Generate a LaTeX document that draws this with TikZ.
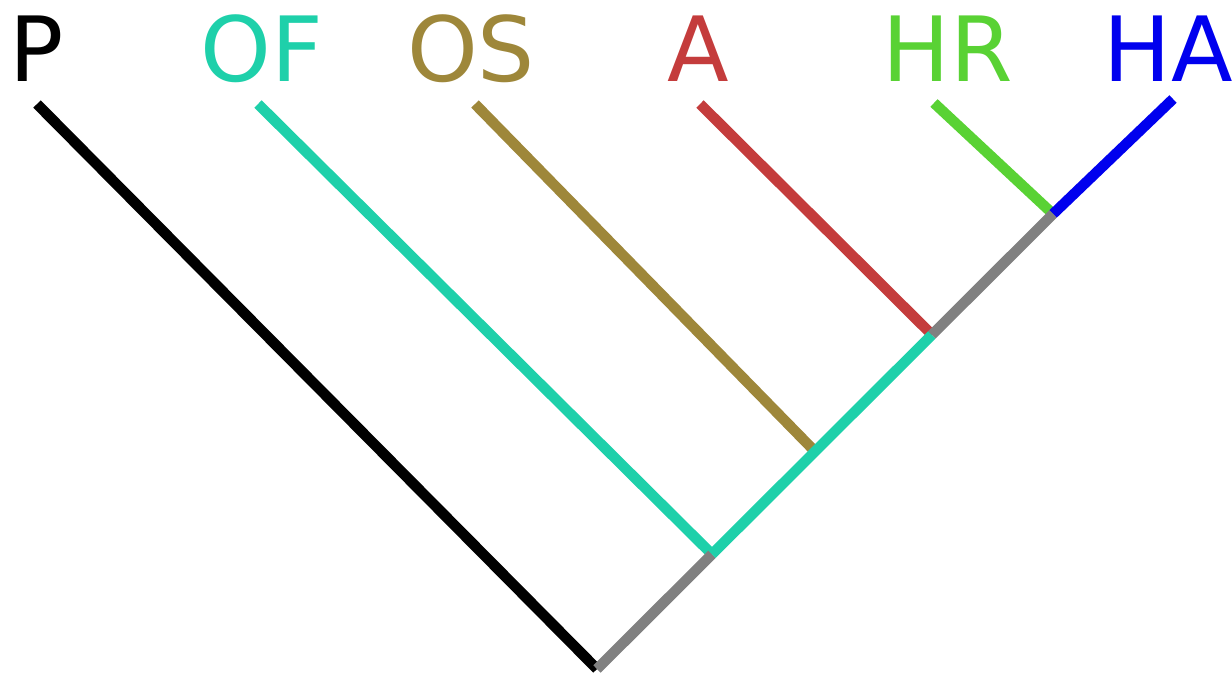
\documentclass[tikz,border=0pt]{standalone}
\usepackage{fontspec}
\setmainfont{DejaVu Sans}
\usetikzlibrary{calc}
\definecolor{cteal}{RGB}{30,208,170}
\definecolor{colive}{RGB}{158,135,58}
\definecolor{cred}{RGB}{196,60,60}
\definecolor{cgreen}{RGB}{89,210,52}
\definecolor{cblue}{RGB}{0,0,238}
\definecolor{cgray}{RGB}{128,128,128}
\begin{document}
\begin{tikzpicture}[x=1pt,y=-1pt,
  branch/.style={line width=10.5pt,line cap=butt},
  taxon/.style={anchor=base,inner sep=0pt,font=\fontsize{90}{90}\selectfont}]
\useasboundingbox (0,0) rectangle (1232,678);
% internal nodes of the tree, all on one straight backbone
\coordinate (root) at (597,669);
\coordinate (n4) at (1053,214);
\coordinate (n1) at ($(root)!0.2522!(n4)$);
\coordinate (n2) at ($(root)!0.4781!(n4)$);
\coordinate (n3) at ($(root)!0.7346!(n4)$);
% leaf tips
\coordinate (tP) at (37,104);
\coordinate (tOF) at (258,104);
\coordinate (tOS) at (475,104);
\coordinate (tA) at (700,104);
\coordinate (tHR) at (934,103);
\coordinate (tHA) at (1173,99);
% labels
\node[taxon] (lP) at (37,81) {P};
\node[taxon,text=cteal] (lOF) at (262,81) {OF};
\node[taxon,text=colive] (lOS) at (471,81) {OS};
\node[taxon,text=cred] (lA) at (698,81) {A};
\node[taxon,text=cgreen] (lHR) at (948,81) {HR};
\node[taxon,text=cblue] (lHA) at (1168,81) {HA};
% leaf branches
\draw[branch,black] (tP) -- (root);
\draw[branch,cteal] (tOF) -- (n1);
\draw[branch,colive] (tOS) -- (n2);
\draw[branch,cred] (tA) -- (n3);
\draw[branch,cgreen] (tHR) -- (n4);
\draw[branch,cblue] (tHA) -- (n4);
% backbone
\draw[branch,cgray] (root) -- (n1);
\draw[branch,cteal] (n1) -- (n3);
\draw[branch,cgray] (n3) -- (n4);
\end{tikzpicture}
\end{document}
